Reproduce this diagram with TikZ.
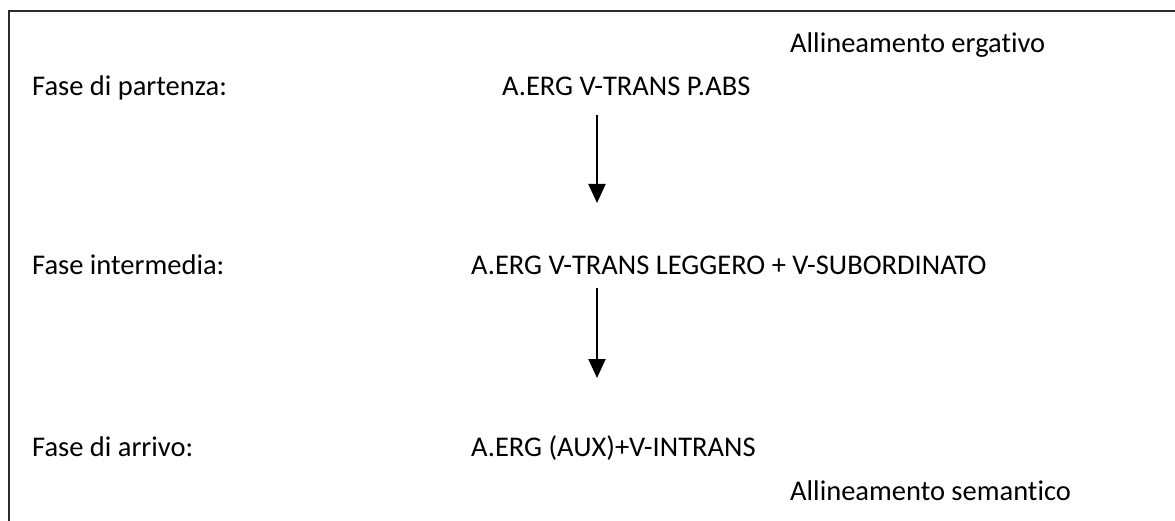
\documentclass[tikz,border=0pt]{standalone}
\usepackage{fontspec}
\setmainfont[Ligatures=NoCommon]{Carlito}
\usetikzlibrary{arrows.meta}
\begin{document}
\begin{tikzpicture}[x=1pt,y=-1pt,
  txt/.style={anchor=base west,inner sep=0pt,font=\fontsize{28.5}{34}\selectfont},
  frameline/.style={line width=2pt,draw={rgb,255:red,43;green,43;blue,43}},
  flow/.style={line width=2pt,-{Triangle[width=17pt,length=19pt]}}]
\useasboundingbox (0,0) rectangle (1175,521);
% open frame: left and top edges only
\draw[frameline] (9,521) -- (9,11) -- (1175,11);
% labels
\node[txt] (erg) at (790,53) {Allineamento ergativo};
\node[txt] (l1) at (32,96) {Fase di partenza:};
\node[txt] (r1) at (502,96) {A.ERG V-TRANS P.ABS};
\node[txt] (l2) at (32,275) {Fase intermedia:};
\node[txt] (r2) at (471,275) {A.ERG V-TRANS LEGGERO + V-SUBORDINATO};
\node[txt] (l3) at (32,456) {Fase di arrivo:};
\node[txt] (r3) at (471,456) {A.ERG (AUX)+V-INTRANS};
\node[txt] (sem) at (790,500) {Allineamento semantico};
% arrows between the phases
\coordinate (a1s) at (597,115);
\coordinate (a1e) at (597,203);
\coordinate (a2s) at (597,288);
\coordinate (a2e) at (597,378);
\draw[flow] (a1s) -- (a1e);
\draw[flow] (a2s) -- (a2e);
\end{tikzpicture}
\end{document}
